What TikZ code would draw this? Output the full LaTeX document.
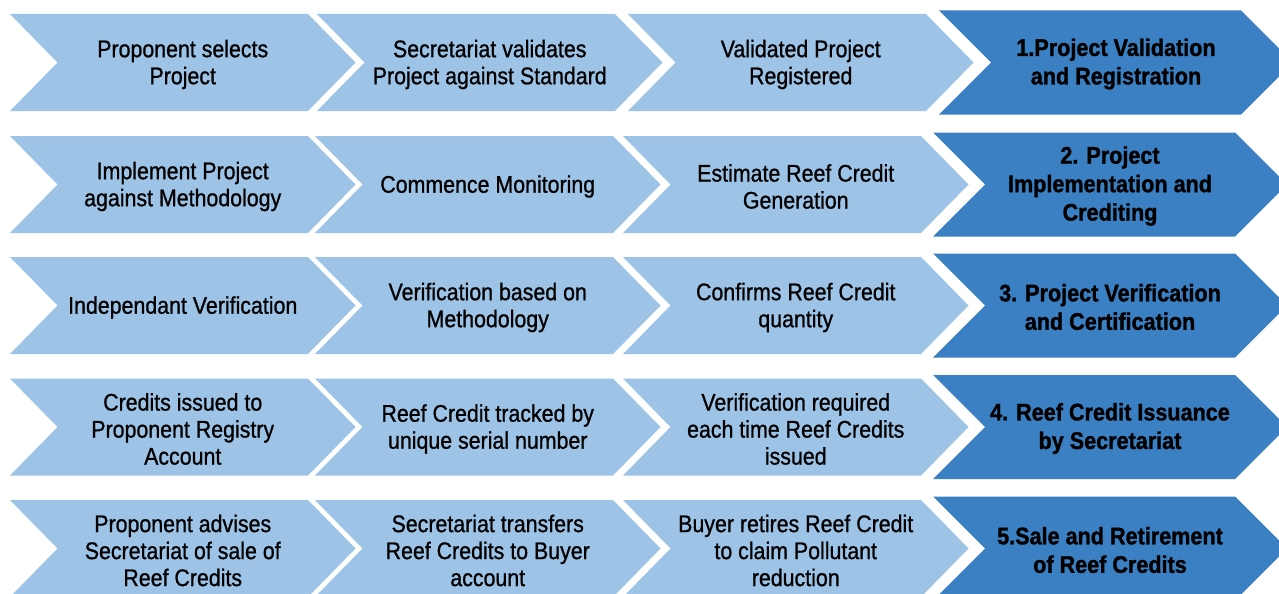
\documentclass[tikz,border=0pt]{standalone}
\usepackage{fontspec}
\setmainfont{Liberation Sans}
\newfontfamily\lightfont{Liberation Sans}[FakeStretch=0.89,FakeBold=0.9]
\newfontfamily\darkfont{Liberation Sans}[UprightFont=* Bold,FakeStretch=0.9,FakeBold=1.2]
\definecolor{lightb}{HTML}{9DC3E6}
\definecolor{darkb}{HTML}{3A80C3}
\tikzset{
 lightchev/.style={fill=lightb},
 darkchev/.style={fill=darkb},
 lighttext/.style={align=center, text=black, font=\lightfont\fontsize{24}{27}\selectfont, inner sep=0pt},
 darktext/.style={align=center, text=black, font=\darkfont\fontsize{24}{28.5}\selectfont, inner sep=0pt},
}
% x0, ymid, w, h, d, style
\newcommand\mychev[6]{%
 \fill[#6] (#1,#2-#4/2) -- ++(#3,0) -- ++(#5,#4/2) -- ++(-#5,#4/2) -- ++(-#3,0) -- ++(#5,-#4/2) -- cycle;}
% light chevron + its text: name, x0, ymid, text
\newcommand\lightstep[4]{%
 \mychev{#2}{#3}{298}{97}{47.5}{lightchev}
 \node[lighttext] (#1) at (#2+172.75,#3+2) {#4};}
\newcommand\darkstep[4]{%
 \mychev{#2}{#3}{302}{104}{52}{darkchev}
 \node[darktext] (#1) at (#2+177,#3+1.5) {#4};}
\begin{document}
\begin{tikzpicture}[x=1pt,y=-1pt]
\useasboundingbox (0,0) rectangle (1279,594);
\clip (0,0) rectangle (1279,594);
% Row 1
\lightstep{r1a}{10}{62.5}{Proponent selects\\Project}
\lightstep{r1b}{317}{62.5}{Secretariat validates\\Project against Standard}
\lightstep{r1c}{628}{62.5}{Validated Project\\Registered}
\darkstep{r1d}{939}{62.5}{1.Project Validation\\and Registration}
% Row 2
\lightstep{r2a}{10}{184.5}{Implement Project\\against Methodology}
\lightstep{r2b}{315}{184.5}{Commence Monitoring}
\lightstep{r2c}{623}{184.5}{Estimate Reef Credit\\Generation}
\darkstep{r2d}{933}{184.5}{2. Project\\Implementation and\\Crediting}
% Row 3
\lightstep{r3a}{10}{305.5}{Independant Verification}
\lightstep{r3b}{315}{305.5}{Verification based on\\Methodology}
\lightstep{r3c}{623}{305.5}{Confirms Reef Credit\\quantity}
\darkstep{r3d}{933}{305.5}{3. Project Verification\\and Certification}
% Row 4
\lightstep{r4a}{10}{427}{Credits issued to\\Proponent Registry\\Account}
\lightstep{r4b}{315}{427}{Reef Credit tracked by\\unique serial number}
\lightstep{r4c}{623}{427}{Verification required\\each time Reef Credits\\issued}
\darkstep{r4d}{933}{427}{4. Reef Credit Issuance\\by Secretariat}
% Row 5
\lightstep{r5a}{10}{548.5}{Proponent advises\\Secretariat of sale of\\Reef Credits}
\lightstep{r5b}{315}{548.5}{Secretariat transfers\\Reef Credits to Buyer\\account}
\lightstep{r5c}{623}{548.5}{Buyer retires Reef Credit\\to claim Pollutant\\reduction}
\darkstep{r5d}{933}{548.5}{5.Sale and Retirement\\of Reef Credits}
\end{tikzpicture}
\end{document}
